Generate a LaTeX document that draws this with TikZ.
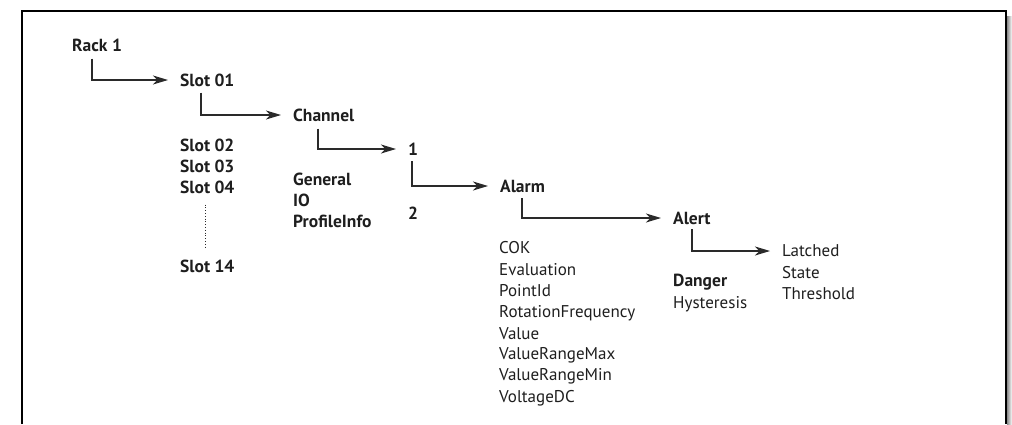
\documentclass[tikz,border=0pt]{standalone}
\usepackage{fontspec}
\setmainfont{PT Sans}
\usetikzlibrary{arrows.meta}
\definecolor{txt}{HTML}{1E1E1E}
\definecolor{ln}{HTML}{2A2A2A}
\begin{document}
\begin{tikzpicture}[x=1pt,y=-1pt,
  bnode/.style={anchor=west, inner sep=0pt, text=txt, font=\fontsize{17.5}{17.5}\selectfont\bfseries},
  rnode/.style={anchor=west, inner sep=0pt, text=txt, font=\fontsize{17}{17}\selectfont},
  arr/.style={draw=ln, line width=1.1pt, shorten >=12pt, -{Stealth[length=15pt,width=9pt,inset=4.5pt]}}]
\useasboundingbox (0,0) rectangle (1012,424);
% frame and shadow
\shade[left color=black!45, right color=white] (1007,16) rectangle (1012,424);
\draw[line width=2pt, black] (22,424) -- (22,11) -- (1006,11) -- (1006,424);
% nodes
\node[bnode] (rack) at (72,45) {Rack 1};
\node[bnode] (slot1) at (180,80) {Slot 01};
\node[bnode] (slot2) at (180,145) {Slot 02};
\node[bnode] (slot3) at (180,166) {Slot 03};
\node[bnode] (slot4) at (180,187) {Slot 04};
\node[bnode] (slot14) at (180,266) {Slot 14};
\node[bnode] (chan) at (293,115) {Channel};
\node[bnode] (gen) at (293,179) {General};
\node[bnode] (io) at (293,200) {IO};
\node[bnode] (prof) at (293,221) {ProfileInfo};
\node[bnode] (one) at (408,149) {1};
\node[bnode] (two) at (408,213) {2};
\node[bnode] (alarm) at (500,186) {Alarm};
\node[rnode] (cok) at (499,248) {COK};
\node[rnode] (eval) at (499,270) {Evaluation};
\node[rnode] (pid) at (499,291) {PointId};
\node[rnode] (rot) at (499,313) {RotationFrequency};
\node[rnode] (val) at (499,334) {Value};
\node[rnode] (vmax) at (499,355) {ValueRangeMax};
\node[rnode] (vmin) at (499,376) {ValueRangeMin};
\node[rnode] (vdc) at (499,398) {VoltageDC};
\node[bnode] (alert) at (673,218) {Alert};
\node[bnode] (danger) at (673,282) {Danger};
\node[rnode] (hyst) at (673,304) {Hysteresis};
\node[rnode] (latch) at (782,251) {Latched};
\node[rnode] (state) at (782,273) {State};
\node[rnode] (thr) at (782,294) {Threshold};
% connectors
\draw[arr] (rack.south west) ++(20,7) |- (slot1.west);
\draw[arr] (slot1.south west) ++(21,6) |- (chan.west);
\draw[arr] (chan.south west) ++(25,7) |- (one.west);
\draw[arr] (one.south west) ++(4,6) |- (alarm.west);
\draw[arr] (alarm.south west) ++(22,6) |- (alert.west);
\draw[arr] (alert.south west) ++(19,5) |- (latch.west);
\draw[ln, line width=0.8pt, dotted] (slot4.south west) ++(25,11) -- ([xshift=25pt,yshift=11pt]slot14.north west);
\end{tikzpicture}
\end{document}
